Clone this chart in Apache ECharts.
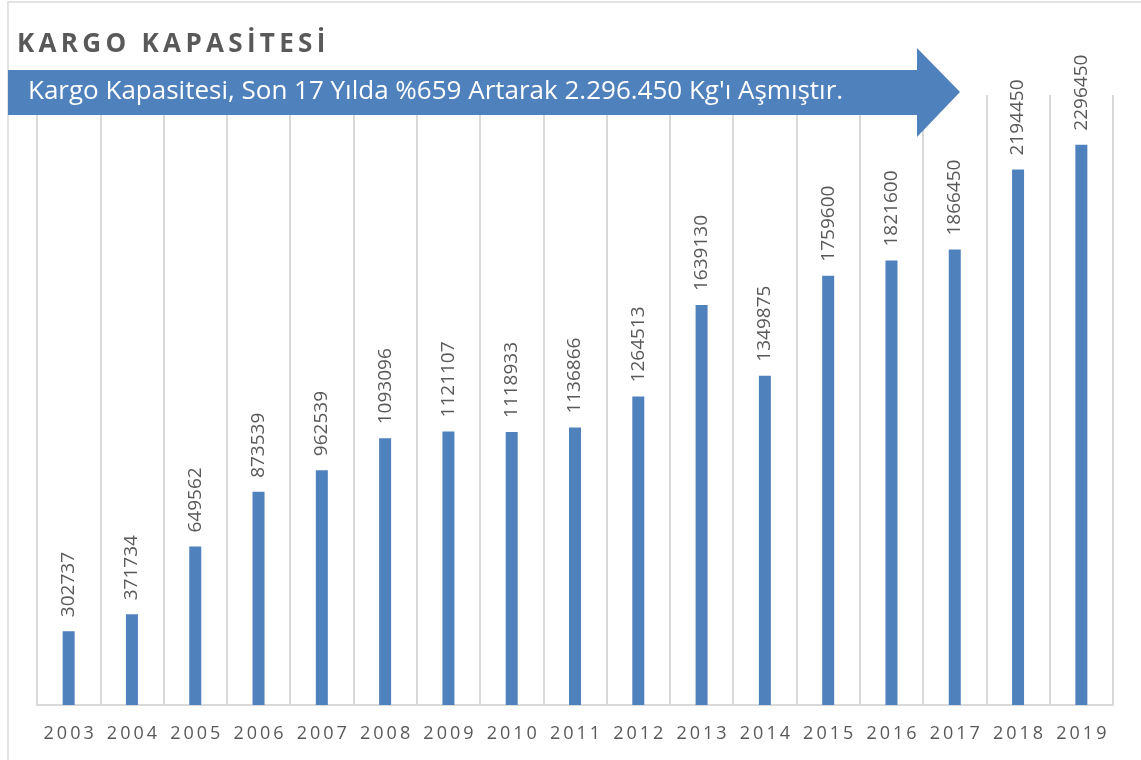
<!DOCTYPE html>
<html>
<head>
  <meta charset="utf-8" />
  <title>Kargo Kapasitesi</title>
  <script src="https://cdn.jsdelivr.net/npm/echarts@6/dist/echarts.min.js"></script>
  <style>
    html, body { margin: 0; padding: 0; background: #fff; }
  </style>
</head>
<body>
<div id="main" style="width: 1141px;height:760px;"></div>
<script type="text/javascript">
  // veriler
  var years = ['2003', '2004', '2005', '2006', '2007', '2008', '2009', '2010', '2011',
    '2012', '2013', '2014', '2015', '2016', '2017', '2018', '2019'];
  var capacity = [302737, 371734, 649562, 873539, 962539, 1093096, 1121107, 1118933, 1136866,
    1264513, 1639130, 1349875, 1759600, 1821600, 1866450, 2194450, 2296450];
  var titleText = 'KARGO KAPASİTESİ';
  var arrowText = "Kargo Kapasitesi, Son 17 Yılda %659 Artarak 2.296.450 Kg'ı Aşmıştır.";

  var gray = '#595959';
  var blue = '#4f81bd';

  // harf aralığı için karakterler arasına ince boşluk
  function spaced(s) {
    return s.split('').join('\u2009');
  }

  var myChart = echarts.init(document.getElementById('main'));
  var option = {
    backgroundColor: '#fff',
    animation: false,
    textStyle: { fontFamily: 'Open Sans' },
    grid: { left: 37, right: 28, top: 95, bottom: 55 },
    xAxis: {
      type: 'category',
      data: years,
      axisTick: { show: false },
      axisLine: { lineStyle: { color: '#d9d9d9', width: 2 } },
      splitLine: { show: true, interval: 0, lineStyle: { color: '#d9d9d9', width: 2 } },
      axisLabel: {
        interval: 0,
        color: gray,
        fontSize: 18,
        margin: 20,
        formatter: function (v) { return spaced(v); }
      }
    },
    yAxis: {
      type: 'value',
      min: 0,
      max: 2500000,
      show: false
    },
    graphic: [
      {
        type: 'rect',
        shape: { x: 8, y: 2, width: 1200, height: 800 },
        style: { fill: 'none', stroke: '#d9d9d9', lineWidth: 1.5 },
        z: 0
      },
      {
        type: 'text',
        left: 17,
        top: 32,
        style: {
          text: spaced(titleText),
          fill: gray,
          font: 'bold 26px "Open Sans"'
        }
      },
      {
        type: 'polygon',
        shape: {
          points: [[8, 70], [917, 70], [917, 48], [960, 92], [917, 137], [917, 115], [8, 115]]
        },
        style: { fill: blue },
        z: 10
      },
      {
        type: 'text',
        left: 28,
        top: 79,
        style: {
          text: arrowText,
          fill: '#fff',
          font: '26px "Open Sans"'
        },
        z: 11
      }
    ],
    series: [
      {
        type: 'bar',
        data: capacity,
        barWidth: 12,
        itemStyle: { color: blue },
        label: {
          show: true,
          position: 'top',
          rotate: 90,
          align: 'left',
          verticalAlign: 'middle',
          distance: 14,
          color: gray,
          fontSize: 19
        }
      }
    ]
  };

  option && myChart.setOption(option);
</script>
</body>
</html>
